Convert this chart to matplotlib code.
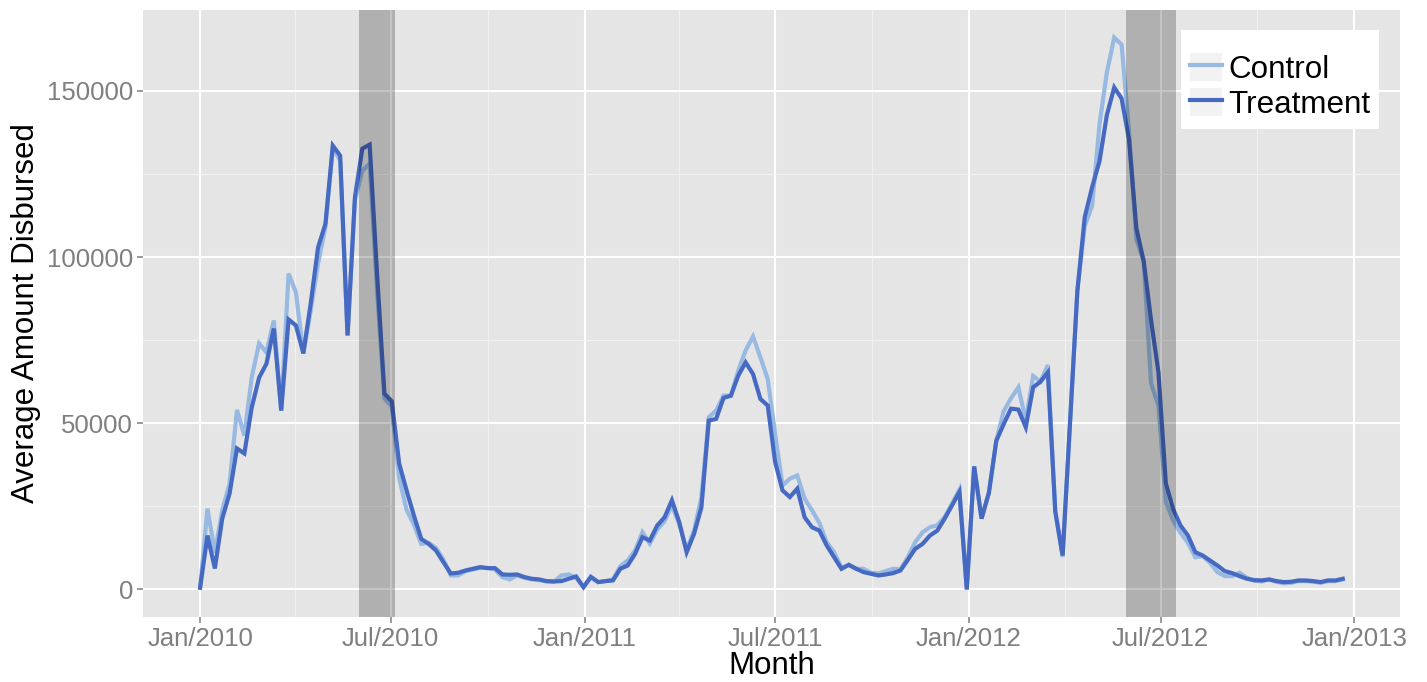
import numpy as np
import pandas as pd
import matplotlib
matplotlib.use("Agg")
import matplotlib.pyplot as plt
import matplotlib.dates as mdates
from matplotlib.patches import Rectangle
from matplotlib.legend_handler import HandlerLine2D
from matplotlib.ticker import FixedLocator, FuncFormatter

plt.rcParams["font.family"] = ["Liberation Sans", "DejaVu Sans"]

# weekly averages, first week starting 2010-01-01
start_date = "2010-01-01"
control = [500, 24300, 11000, 23800, 31900, 54000, 46300, 63800, 74000, 71300,
           80900, 53800, 95000, 89300, 71000, 83900, 98000, 109000, 133000, 129000,
           76400, 117000, 126000, 128000, 90000, 57500, 55000, 33500, 24000, 19500,
           13700, 14000, 12500, 9000, 4200, 4200, 5500, 6000, 6500, 6500,
           6000, 3700, 3000, 4200, 3500, 3000, 2800, 2400, 2300, 4200,
           4500, 3500, 700, 3500, 2200, 2500, 3000, 7000, 8700, 11700,
           17200, 13800, 18000, 20500, 25300, 19500, 12000, 17700, 27700, 51800,
           53800, 58300, 58300, 65800, 71900, 76100, 69800, 63300, 46800, 31300,
           33300, 34300, 27300, 23800, 20000, 14200, 11200, 6500, 7400, 6200,
           6200, 5000, 4800, 5500, 6200, 6000, 9700, 14200, 17200, 18700,
           19300, 21800, 25800, 30000, 0, 37000, 21300, 29100, 44700, 53600,
           57500, 60800, 50800, 64200, 62500, 67500, 23500, 9800, 50000, 89800,
           109300, 115400, 139900, 155500, 166000, 163900, 138000, 105400, 98700, 61900,
           55300, 26300, 20700, 17000, 14000, 9700, 10000, 8000, 5200, 4000,
           4000, 5000, 3500, 2600, 2400, 3000, 2300, 1800, 2000, 2500,
           2500, 2300, 2000, 2500, 2500, 3000]
treatment = [500, 16200, 6300, 21300, 28900, 42400, 40900, 54700, 63700, 67900,
             78500, 53800, 81200, 79400, 71000, 86000, 102900, 110000, 133500, 130500,
             76400, 118000, 132600, 133800, 95000, 58900, 56600, 37900, 29800, 22200,
             15200, 13700, 11700, 8200, 4800, 5000, 5700, 6200, 6700, 6400,
             6400, 4500, 4400, 4500, 3700, 3200, 3000, 2500, 2400, 2500,
             3200, 3900, 700, 3800, 2200, 2500, 2700, 6200, 7200, 10700,
             15700, 14700, 19200, 21700, 26800, 20200, 11200, 16700, 24700, 50800,
             51300, 57600, 58300, 64300, 68300, 64800, 57300, 55300, 38300, 29800,
             27800, 30300, 21700, 18700, 17700, 13200, 9700, 6200, 7400, 6200,
             5200, 4700, 4200, 4500, 4900, 5700, 8900, 12200, 13700, 16200,
             17700, 21300, 25300, 29300, 0, 37000, 21300, 29100, 44700, 49700,
             54400, 54100, 48800, 60800, 62500, 65300, 23500, 10200, 50000, 89800,
             112000, 121000, 128800, 142700, 151000, 147700, 135400, 108700, 98700, 80900,
             65300, 31900, 24100, 19200, 16200, 11200, 10200, 8700, 7200, 5500,
             4900, 4000, 3200, 2800, 2700, 3000, 2500, 2200, 2300, 2700,
             2700, 2500, 2200, 2700, 2700, 3200]
series_names = ["Control", "Treatment"]
series_colors = ["#97B9E2", "#4669C2"]

# shaded periods
band_starts = ["2010-06-01", "2012-05-29"]
band_ends = ["2010-07-05", "2012-07-16"]


class KeyHandler(HandlerLine2D):
    """Legend key drawn on a light grey square, ggplot style."""
    def create_artists(self, legend, orig_handle, xdescent, ydescent, width, height, fontsize, trans):
        bg = Rectangle((-xdescent, -ydescent), width, height, facecolor="#F2F2F2",
                       edgecolor="none", transform=trans)
        arts = super().create_artists(legend, orig_handle, xdescent, ydescent, width, height, fontsize, trans)
        return [bg] + list(arts)


def main(out="out.png"):
    dates = pd.date_range(start_date, periods=len(control), freq="7D")
    fig = plt.figure(figsize=(14.27, 6.82), dpi=100)
    ax = fig.add_axes([0.1002, 0.0953, 0.8808, 0.89])
    ax.set_facecolor("#E5E5E5")
    for s in ax.spines.values():
        s.set_visible(False)

    lines = []
    for vals, name, col in zip([control, treatment], series_names, series_colors):
        ln, = ax.plot(dates, vals, color=col, lw=3.0, label=name, solid_joinstyle="miter", zorder=3)
        lines.append(ln)

    for a, b in zip(band_starts, band_ends):
        ax.axvspan(pd.Timestamp(a), pd.Timestamp(b), color="black", alpha=0.23, lw=0, zorder=4)

    # ggplot-style 5% expansion
    allv = np.array(control + treatment)
    lo, hi = allv.min(), allv.max()
    ax.set_ylim(lo - 0.05 * (hi - lo), hi + 0.05 * (hi - lo))
    span = dates[-1] - dates[0]
    ax.set_xlim(dates[0] - 0.05 * span, dates[-1] + 0.05 * span)

    ax.yaxis.set_major_locator(FixedLocator([0, 50000, 100000, 150000]))
    ax.yaxis.set_minor_locator(FixedLocator([25000, 75000, 125000]))
    ax.yaxis.set_major_formatter(FuncFormatter(lambda v, p: f"{int(v)}"))
    ax.xaxis.set_major_locator(mdates.MonthLocator(bymonth=[1, 7]))
    ax.xaxis.set_minor_locator(mdates.MonthLocator(bymonth=[4, 10]))
    ax.xaxis.set_major_formatter(mdates.DateFormatter("%b/%Y"))

    ax.grid(True, which="major", color="white", lw=1.5, zorder=1)
    ax.grid(True, which="minor", color="#F2F2F2", lw=0.7, zorder=1)
    ax.set_axisbelow(True)
    ax.tick_params(which="major", length=4, width=1.1, color="#7F7F7F",
                   labelcolor="#7F7F7F", labelsize=18.5, pad=3)
    ax.tick_params(which="minor", length=0)

    ax.set_xlabel("Month", fontsize=22.5, labelpad=0.5)
    ax.set_ylabel("Average Amount Disbursed", fontsize=22.5, labelpad=4)

    # blank title reserves the small gap above the keys
    leg = ax.legend(handles=lines, loc="upper right", fontsize=22.6, frameon=True, fancybox=False,
                    title=" ", title_fontsize=7,
                    handlelength=1.0, handleheight=1.0, handletextpad=0.2, labelspacing=0.1,
                    borderpad=0.3, borderaxespad=0.65,
                    handler_map={matplotlib.lines.Line2D: KeyHandler()})
    leg.get_frame().set_facecolor("white")
    leg.get_frame().set_edgecolor("none")
    leg.get_frame().set_alpha(1)
    leg.set_zorder(6)

    fig.savefig(out, dpi=100)
    plt.close(fig)


if __name__ == "__main__":
    main()
